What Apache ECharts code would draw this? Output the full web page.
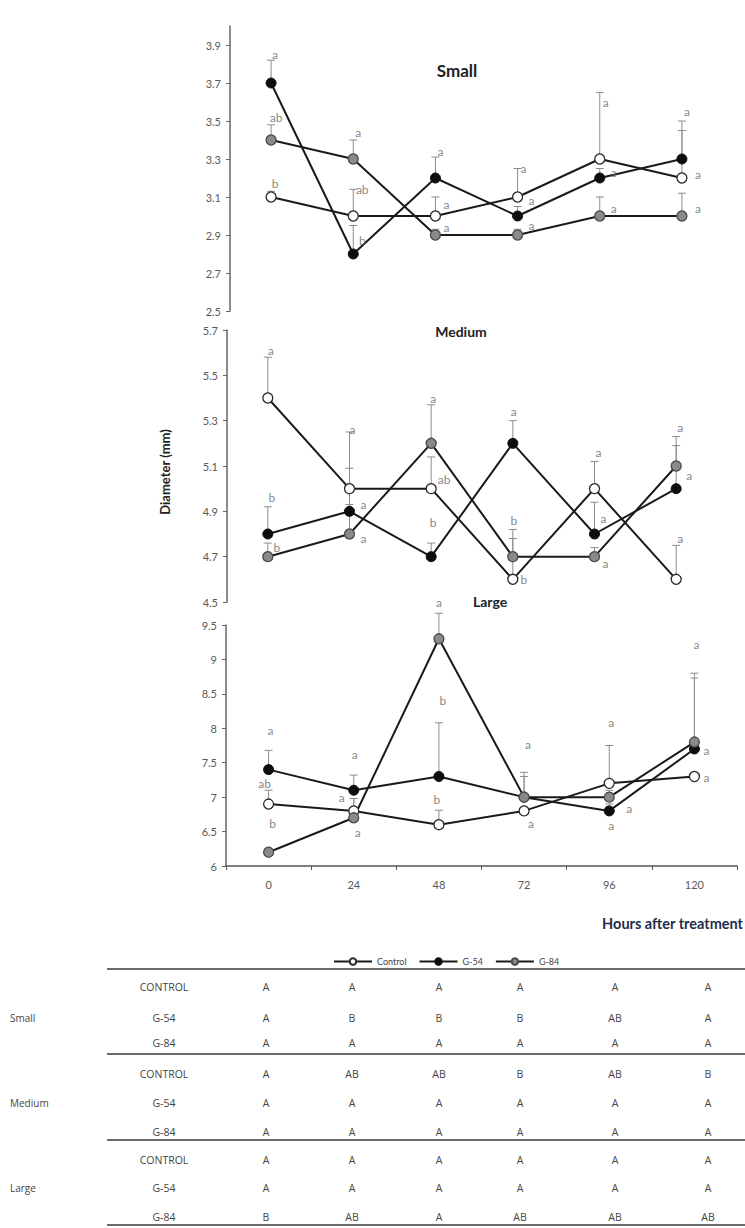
<!DOCTYPE html>
<html>
<head>
<meta charset="UTF-8">
<title>Diameter after treatment</title>
<script src="https://cdn.jsdelivr.net/npm/echarts@6/dist/echarts.min.js"></script>
<style>html,body,#container{width:745px;height:1228px;margin:0;padding:0;background:#fff;}</style>
</head>
<body>
<div id="container"></div>
<script>
// hours after treatment
var hours = ['0', '24', '48', '72', '96', '120'];
var treatments = ['Control', 'G-54', 'G-84'];
var panels = ['Small', 'Medium', 'Large'];

// means per panel: [Control, G-54, G-84]
var smallMeans = [
  [3.1, 3.0, 3.0, 3.1, 3.3, 3.2],
  [3.7, 2.8, 3.2, 3.0, 3.2, 3.3],
  [3.4, 3.3, 2.9, 2.9, 3.0, 3.0]
];
var mediumMeans = [
  [5.4, 5.0, 5.0, 4.6, 5.0, 4.6],
  [4.8, 4.9, 4.7, 5.2, 4.8, 5.0],
  [4.7, 4.8, 5.2, 4.7, 4.7, 5.1]
];
var largeMeans = [
  [6.9, 6.8, 6.6, 6.8, 7.2, 7.3],
  [7.4, 7.1, 7.3, 7.0, 6.8, 7.7],
  [6.2, 6.7, 9.3, 7.0, 7.0, 7.8]
];

// standard errors (upper bar only)
var smallErr = [
  [0.03, 0.14, 0.1, 0.15, 0.35, 0.25],
  [0.12, 0.15, 0.11, 0.05, 0.05, 0.2],
  [0.08, 0.1, 0.03, 0.03, 0.1, 0.12]
];
var mediumErr = [
  [0.18, 0.25, 0.14, 0.18, 0.12, 0.15],
  [0.12, 0.19, 0.06, 0.1, 0.14, 0.19],
  [0.06, 0.13, 0.17, 0.12, 0.04, 0.13]
];
var largeErr = [
  [0.2, 0.18, 0.21, 0.05, 0.55, 0.05],
  [0.28, 0.22, 0.78, 0.36, 0.1, 1.03],
  [0.05, 0.28, 0.37, 0.3, 0.1, 1.0]
];

// significance letters: [hour index, y, letter, x shift]
var smallLetters = [
  [0, 3.85, 'a', 4], [0, 3.52, 'ab', 5], [0, 3.17, 'b', 4],
  [1, 3.44, 'a', 5], [1, 3.14, 'ab', 9], [1, 2.87, 'b', 9],
  [2, 3.34, 'a', 5], [2, 3.06, 'a', 11], [2, 2.94, 'a', 11],
  [3, 3.25, 'a', 6], [3, 3.08, 'a', 14], [3, 2.95, 'a', 14],
  [4, 3.60, 'a', 6], [4, 3.23, 'a', 14], [4, 3.04, 'a', 14],
  [5, 3.55, 'a', 5], [5, 3.22, 'a', 16], [5, 3.04, 'a', 16]
];
var mediumLetters = [
  [0, 5.61, 'a', 3], [0, 4.96, 'b', 4], [0, 4.74, 'b', 9],
  [1, 5.26, 'a', 3], [1, 4.93, 'a', 14], [1, 4.78, 'a', 14],
  [2, 5.40, 'a', 2], [2, 5.04, 'ab', 13], [2, 4.85, 'b', 2],
  [3, 5.34, 'a', 1], [3, 4.86, 'b', 1], [3, 4.60, 'b', 11],
  [4, 5.16, 'a', 4], [4, 4.87, 'a', 9], [4, 4.67, 'a', 11],
  [5, 5.27, 'a', 4], [5, 5.06, 'a', 13], [5, 4.78, 'a', 4]
];
var largeLetters = [
  [0, 7.97, 'a', 2], [0, 7.20, 'ab', -4], [0, 6.61, 'b', 4],
  [1, 7.62, 'a', 1], [1, 7.00, 'a', -12], [1, 6.48, 'a', 4],
  [2, 9.83, 'a', 0], [2, 8.41, 'b', 4], [2, 6.96, 'b', -2],
  [3, 7.77, 'a', 4], [3, 6.62, 'a', 7],
  [4, 8.09, 'a', 2], [4, 6.84, 'a', 20], [4, 6.59, 'a', 2],
  [5, 9.22, 'a', 2], [5, 7.68, 'a', 12], [5, 7.29, 'a', 12]
];

// table under the chart
var tableRows = ['CONTROL', 'G-54', 'G-84'];
var tableLetters = [
  ['A', 'A', 'A', 'A', 'A', 'A'],
  ['A', 'B', 'B', 'B', 'AB', 'A'],
  ['A', 'A', 'A', 'A', 'A', 'A'],
  ['A', 'AB', 'AB', 'B', 'AB', 'B'],
  ['A', 'A', 'A', 'A', 'A', 'A'],
  ['A', 'A', 'A', 'A', 'A', 'A'],
  ['A', 'A', 'A', 'A', 'A', 'A'],
  ['A', 'A', 'A', 'A', 'A', 'A'],
  ['B', 'AB', 'A', 'AB', 'AB', 'AB']
];

var means = [smallMeans, mediumMeans, largeMeans];
var errs = [smallErr, mediumErr, largeErr];
var letters = [smallLetters, mediumLetters, largeLetters];

var FONT = 'Lato, "Open Sans", sans-serif';
var TFONT = '"Open Sans", Lato, sans-serif';
var lineColor = '#1a1a1a';
var letterColor = '#666666';
var markStyle = [
  { color: '#ffffff', borderColor: '#2a2a2a', borderWidth: 1.3 },
  { color: '#0d0d0d', borderColor: '#0d0d0d', borderWidth: 1 },
  { color: '#8a8a8a', borderColor: '#4a4a4a', borderWidth: 1.3 }
];

var chart = echarts.init(document.getElementById('container'), null, { renderer: 'svg' });

var grids = [
  { left: 230, top: 26, width: 493, height: 285 },
  { left: 227, top: 330, width: 490, height: 272 },
  { left: 226, top: 625, width: 511, height: 241 }
];
var yRange = [[2.5, 4.0, 0.2], [4.5, 5.7, 0.2], [6, 9.5, 0.5]];

var xAxes = [], yAxes = [], series = [];
for (var p = 0; p < 3; p++) {
  xAxes.push({
    type: 'category', gridIndex: p, data: hours, boundaryGap: true,
    show: p === 2,
    axisLine: { lineStyle: { color: '#555', width: 1.5 } },
    axisTick: { show: true, length: 4, lineStyle: { color: '#555' } },
    axisLabel: { color: '#595959', fontSize: 11, fontFamily: FONT, margin: 13 }
  });
  yAxes.push({
    type: 'value', gridIndex: p, min: yRange[p][0], max: yRange[p][1], interval: yRange[p][2],
    splitLine: { show: false },
    axisLine: { show: true, lineStyle: { color: '#666', width: 1.5 } },
    axisTick: { show: true, length: 4, lineStyle: { color: '#666' } },
    axisLabel: {
      color: '#595959', fontSize: 11, fontFamily: FONT, margin: 9, showMaxLabel: p !== 0,
      formatter: p === 2 ? null : function (v) { return v.toFixed(1); }
    }
  });

  // error bars
  for (var t = 0; t < 3; t++) {
    var ebData = means[p][t].map(function (m, i) { return [i, m, m + errs[p][t][i]]; });
    series.push({
      type: 'custom', xAxisIndex: p, yAxisIndex: p, z: 1, silent: true,
      data: ebData,
      renderItem: function (params, api) {
        var lo = api.coord([api.value(0), api.value(1)]);
        var hi = api.coord([api.value(0), api.value(2)]);
        var st = { stroke: '#8c8c8c', lineWidth: 1 };
        return {
          type: 'group', children: [
            { type: 'line', shape: { x1: lo[0], y1: lo[1], x2: hi[0], y2: hi[1] }, style: st },
            { type: 'line', shape: { x1: hi[0] - 4, y1: hi[1], x2: hi[0] + 4, y2: hi[1] }, style: st }
          ]
        };
      }
    });
  }

  // lines
  for (var t2 = 0; t2 < 3; t2++) {
    series.push({
      name: treatments[t2], type: 'line', xAxisIndex: p, yAxisIndex: p, z: 3,
      data: means[p][t2],
      symbol: 'circle', symbolSize: 10,
      lineStyle: { color: lineColor, width: 2 },
      itemStyle: markStyle[t2]
    });
  }

  // letters
  series.push({
    type: 'scatter', xAxisIndex: p, yAxisIndex: p, z: 4, silent: true, clip: false,
    symbolSize: 0,
    itemStyle: { color: letterColor },
    data: letters[p].map(function (l) {
      return {
        value: [l[0], l[1]], name: l[2],
        label: { offset: [l[3], 0], color: letterColor }
      };
    }),
    label: {
      show: true, position: 'inside', formatter: '{b}',
      color: letterColor, fontSize: 12, fontFamily: FONT
    }
  });
}

// text and table drawn as graphic elements
var graphics = [];
function txt(x, y, s, style, extra) {
  var e = { type: 'text', x: x, y: y, style: Object.assign({ text: s, fontFamily: FONT, fill: '#333', align: 'center', verticalAlign: 'middle' }, style) };
  return Object.assign(e, extra || {});
}
graphics.push(txt(457, 70, 'Small', { fontSize: 17, fontWeight: 'bold', fill: '#222' }));
graphics.push(txt(461, 331, 'Medium', { fontSize: 14, fontWeight: 'bold', fill: '#222' }));
graphics.push(txt(490, 601, 'Large', { fontSize: 14, fontWeight: 'bold', fill: '#222' }));
graphics.push(txt(165, 472, 'Diameter (mm)', { fontSize: 13, fontWeight: 'bold', fill: '#222' }, { rotation: Math.PI / 2 }));
graphics.push(txt(743, 923, 'Hours after treatment', { fontSize: 14.5, fontWeight: 'bold', fill: '#1f2d4d', align: 'right' }));

var colX = [266, 352, 439, 520, 615, 708];
var rowY = [987, 1018, 1043, 1074, 1103, 1132, 1160, 1188, 1217];
var ruleY = [969, 1054, 1140, 1225];
ruleY.forEach(function (y) {
  graphics.push({ type: 'line', shape: { x1: 107, y1: y, x2: 745, y2: y }, style: { stroke: '#6b6b6b', lineWidth: 2 } });
});
panels.forEach(function (name, g) {
  graphics.push(txt(10, rowY[g * 3 + 1], name, { fontSize: 10, fill: '#444', fontFamily: TFONT, align: 'left' }));
});
tableLetters.forEach(function (row, r) {
  graphics.push(txt(164, rowY[r], tableRows[r % 3], { fontSize: 10.5, fill: '#444', fontFamily: TFONT }));
  row.forEach(function (s, c) {
    graphics.push(txt(colX[c], rowY[r], s, { fontSize: 10.5, fill: '#444', fontFamily: TFONT }));
  });
});

chart.setOption({
  backgroundColor: '#fff',
  animation: false,
  grid: grids,
  xAxis: xAxes,
  yAxis: yAxes,
  legend: {
    data: treatments, left: 328, top: 952, itemGap: 12, itemWidth: 38, itemHeight: 8,
    textStyle: { fontSize: 9, color: '#444', fontFamily: FONT }, selectedMode: false
  },
  series: series,
  graphic: graphics
});
</script>
</body>
</html>
